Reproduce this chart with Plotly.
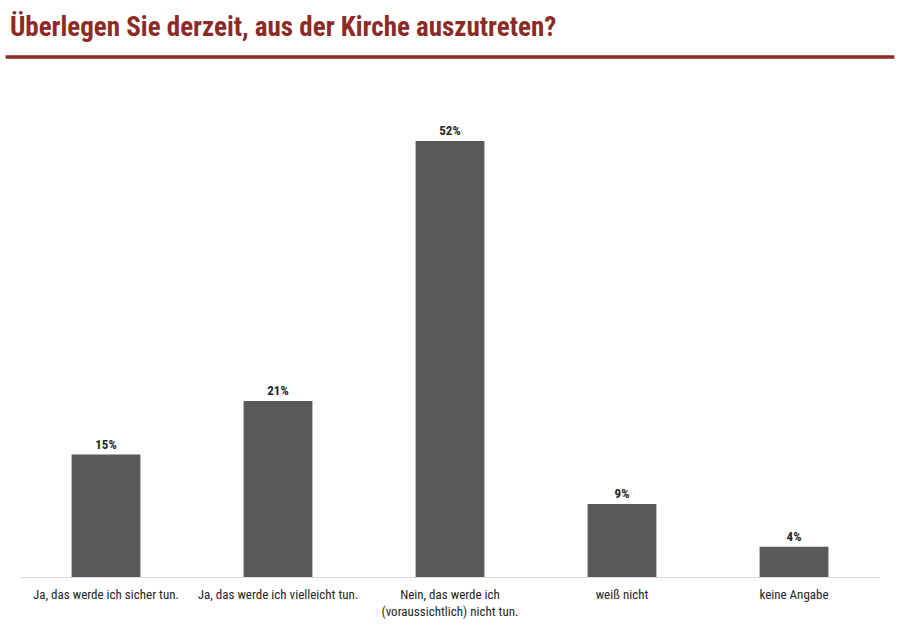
import plotly.graph_objects as go

categories = ["Ja, das werde ich sicher tun.", "Ja, das werde ich vielleicht tun.",
              "Nein, das werde ich<br>(voraussichtlich) nicht tun.", "weiß nicht", "keine Angabe"]
values = [14.6, 21.0, 52.0, 8.7, 3.6]
labels = ["15%", "21%", "52%", "9%", "4%"]

FONT = "Liberation Sans Narrow, Roboto Condensed, Liberation Sans, Arial"

fig = go.Figure(go.Bar(
    x=categories, y=values, text=[f"<b>{t}</b>" for t in labels], textposition="outside",
    marker=dict(color="#595959", line=dict(width=0)),
    textfont=dict(family=FONT, size=13, color="#262626"),
    width=0.4, cliponaxis=False, hoverinfo="skip",
))

fig.update_layout(
    width=900, height=637,
    margin=dict(l=20, r=20, t=74, b=60),
    paper_bgcolor="white", plot_bgcolor="white",
    showlegend=False,
    title=dict(text="<b>Überlegen Sie derzeit, aus der Kirche auszutreten?</b>",
               x=0.011, xanchor="left", y=0.958, yanchor="middle",
               font=dict(family=FONT, size=27, color="#8E2A25")),
    xaxis=dict(showgrid=False, showline=True, linecolor="#D9D9D9", linewidth=1,
               ticks="", ticklabelstandoff=5,
               tickfont=dict(family=FONT, size=13, color="#262626")),
    yaxis=dict(range=[0, 60], visible=False),
    shapes=[dict(type="line", xref="paper", yref="paper",
                 x0=-0.0167, x1=1.0167, y0=1.034, y1=1.034,
                 line=dict(color="#8E2A25", width=3.5))],
    font=dict(family=FONT),
)

fig.write_html("out.html", config={"displayModeBar": False},
               post_script="document.body.style.margin='0';")
